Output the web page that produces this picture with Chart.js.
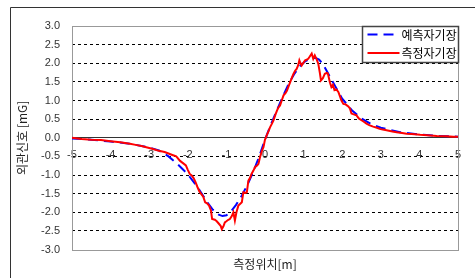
<!DOCTYPE html>
<html>
<head>
<meta charset="utf-8">
<script src="https://cdn.jsdelivr.net/npm/chart.js@4"></script>
<style>
html,body{margin:0;padding:0;background:#fff;}
#wrap{width:475px;height:278px;position:relative;}
</style>
</head>
<body>
<div id="wrap"><canvas id="c" width="475" height="278"></canvas></div>
<script>
// ---- data ----
const seriesNames = ['예측자기장', '측정자기장'];
const xTickLabels = [-5, -4, -3, -2, -1, 0, 1, 2, 3, 4, 5];
const yTickLabels = [-3.0, -2.5, -2.0, -1.5, -1.0, -0.5, 0.0, 0.5, 1.0, 1.5, 2.0, 2.5, 3.0];

const predX = [-5, -4.5, -4, -3.5, -3, -2.75, -2.5, -2.25, -2, -1.75, -1.5, -1.35, -1.2, -1.1, -1.0, -0.9, -0.75, -0.6, -0.45, -0.3, -0.15, 0, 0.15, 0.3, 0.45, 0.6, 0.75, 0.9, 1.05, 1.2, 1.3, 1.4, 1.5, 1.65, 1.8, 2.0, 2.25, 2.5, 2.75, 3.0, 3.5, 4.0, 4.5, 5.0];
const predY = [-0.02, -0.05, -0.1, -0.16, -0.26, -0.34, -0.5, -0.72, -0.98, -1.32, -1.72, -1.93, -2.06, -2.1, -2.08, -2.0, -1.8, -1.55, -1.25, -0.9, -0.5, -0.05, 0.35, 0.72, 1.08, 1.42, 1.7, 1.92, 2.06, 2.14, 2.15, 2.1, 1.98, 1.7, 1.42, 1.05, 0.74, 0.52, 0.37, 0.27, 0.15, 0.09, 0.05, 0.03];

const measX = [-5.0, -4.75, -4.5, -4.25, -4.0, -3.75, -3.5, -3.35, -3.2, -3.05, -2.9, -2.75, -2.6, -2.5, -2.4, -2.3, -2.2, -2.1, -2.05, -2.0, -1.95, -1.9, -1.85, -1.8, -1.75, -1.7, -1.65, -1.6, -1.55, -1.5, -1.45, -1.4, -1.37, -1.3, -1.25, -1.2, -1.15, -1.12, -1.08, -1.04, -1.0, -0.95, -0.91, -0.86, -0.82, -0.78, -0.74, -0.69, -0.64, -0.6, -0.56, -0.5, -0.47, -0.43, -0.39, -0.35, -0.3, -0.26, -0.2, -0.17, -0.13, -0.08, -0.04, 0.0, 0.05, 0.1, 0.13, 0.18, 0.22, 0.27, 0.31, 0.35, 0.39, 0.44, 0.48, 0.53, 0.57, 0.61, 0.65, 0.7, 0.74, 0.78, 0.82, 0.86, 0.89, 0.92, 0.95, 1.0, 1.04, 1.08, 1.12, 1.16, 1.21, 1.25, 1.29, 1.34, 1.38, 1.42, 1.45, 1.5, 1.55, 1.6, 1.63, 1.68, 1.72, 1.76, 1.8, 1.85, 1.9, 1.94, 1.98, 2.03, 2.08, 2.12, 2.16, 2.2, 2.24, 2.3, 2.37, 2.43, 2.5, 2.56, 2.63, 2.7, 2.8, 2.9, 2.97, 3.05, 3.15, 3.3, 3.41, 3.55, 3.67, 3.8, 4.02, 4.2, 4.45, 4.7, 4.88, 5.0];
const measY = [0.0, -0.03, -0.05, -0.06, -0.09, -0.12, -0.16, -0.19, -0.22, -0.26, -0.30, -0.35, -0.38, -0.42, -0.46, -0.50, -0.62, -0.70, -0.74, -0.86, -0.97, -1.01, -1.08, -1.19, -1.32, -1.44, -1.51, -1.58, -1.73, -1.76, -1.82, -1.95, -2.18, -2.2, -2.24, -2.30, -2.36, -2.45, -2.38, -2.27, -2.24, -2.20, -2.18, -2.10, -2.00, -2.22, -2.0, -1.82, -1.77, -1.73, -1.46, -1.48, -1.46, -1.15, -1.08, -0.97, -0.88, -0.79, -0.74, -0.70, -0.52, -0.35, -0.25, -0.05, 0.08, 0.2, 0.28, 0.38, 0.47, 0.62, 0.73, 0.82, 0.87, 1.02, 1.14, 1.2, 1.27, 1.38, 1.49, 1.62, 1.72, 1.80, 1.85, 1.95, 2.08, 2.0, 1.94, 2.02, 2.08, 2.1, 2.12, 2.18, 2.26, 2.12, 2.21, 2.1, 1.99, 1.75, 1.54, 1.6, 1.72, 1.74, 1.72, 1.49, 1.36, 1.42, 1.28, 1.3, 1.23, 1.12, 1.0, 0.91, 0.9, 0.87, 0.84, 0.79, 0.65, 0.63, 0.60, 0.52, 0.47, 0.43, 0.38, 0.34, 0.30, 0.27, 0.24, 0.22, 0.20, 0.17, 0.15, 0.13, 0.11, 0.10, 0.08, 0.07, 0.05, 0.04, 0.03, 0.03];

const xTitle = '측정위치[m]';
const yTitle = '외관신호 [mG]';

// ---- build ----
const toPts = (xs, ys) => xs.map((x, i) => ({x: x, y: ys[i]}));
const korFont = '"Noto Sans CJK KR", "Noto Sans", sans-serif';
const numFont = '"Liberation Sans", Arial, sans-serif';

const framePlugin = {
  id: 'frame',
  beforeDraw(chart) {
    const ctx = chart.ctx;
    ctx.save();
    ctx.fillStyle = '#fff';
    ctx.fillRect(0, 0, chart.width, chart.height);
    ctx.strokeStyle = '#333';
    ctx.lineWidth = 1;
    ctx.beginPath();
    ctx.moveTo(10.5, chart.height);
    ctx.lineTo(10.5, 7.5);
    ctx.lineTo(chart.width, 7.5);
    ctx.stroke();
    ctx.restore();
  },
  beforeDatasetsDraw(chart) {
    const a = chart.chartArea, ctx = chart.ctx;
    ctx.save();
    ctx.strokeStyle = '#999';
    ctx.lineWidth = 1;
    ctx.strokeRect(Math.round(a.left) + 0.5, Math.round(a.top) + 0.5,
                   Math.round(a.right - a.left), Math.round(a.bottom - a.top));
    ctx.restore();
  },
  afterDraw(chart) {
    const ctx = chart.ctx;
    const a = chart.chartArea;
    const bx = a.right - 95.5, by = a.top + 0.5, bw = 96, bh = 36;
    ctx.save();
    ctx.fillStyle = '#fff';
    ctx.fillRect(bx, by, bw, bh);
    ctx.strokeStyle = '#444';
    ctx.lineWidth = 1.5;
    ctx.strokeRect(bx, by, bw, bh);
    const rows = [by + 8, by + 26.5];
    chart.data.datasets.forEach((ds, i) => {
      const y = rows[i];
      ctx.strokeStyle = ds.borderColor;
      ctx.lineWidth = 2;
      ctx.setLineDash(ds.borderDash || []);
      ctx.beginPath();
      ctx.moveTo(bx + 5, y);
      ctx.lineTo(bx + 37, y);
      ctx.stroke();
      ctx.setLineDash([]);
      ctx.fillStyle = '#000';
      ctx.font = '12px ' + korFont;
      ctx.textBaseline = 'middle';
      ctx.textAlign = 'left';
      ctx.fillText(ds.label, bx + 39, y + 0.5);
    });
    ctx.restore();
  }
};

new Chart(document.getElementById('c'), {
  type: 'line',
  data: {
    datasets: [
      {label: seriesNames[0], data: toPts(predX, predY), borderColor: '#0000ff', borderWidth: 2,
       borderDash: [10, 6], pointRadius: 0, tension: 0, fill: false, order: 1},
      {label: seriesNames[1], data: toPts(measX, measY), borderColor: '#ff0000', borderWidth: 2,
       pointRadius: 0, tension: 0, fill: false, order: 0}
    ]
  },
  options: {
    responsive: false,
    animation: false,
    devicePixelRatio: 1,
    layout: {padding: {left: 0, right: 17, top: 26, bottom: 0}},
    plugins: {
      legend: {display: false},
      tooltip: {enabled: false},
      title: {display: true, position: 'bottom', fullSize: false, text: xTitle, color: '#222',
              font: {family: korFont, size: 12, weight: 'normal'}, padding: {top: 8, bottom: 6}}
    },
    scales: {
      x: {
        type: 'linear', position: {y: 0}, min: xTickLabels[0], max: xTickLabels[xTickLabels.length - 1],
        afterBuildTicks(s) { s.ticks = xTickLabels.map(v => ({value: v})); },
        grid: {display: false, drawTicks: false},
        border: {display: true, color: '#333', width: 1},
        ticks: {color: '#333', padding: 11, maxRotation: 0, autoSkip: false,
                font: {family: numFont, size: 11}, callback: v => String(v)}
      },
      y: {
        type: 'linear', min: yTickLabels[0], max: yTickLabels[yTickLabels.length - 1],
        afterBuildTicks(s) { s.ticks = yTickLabels.map(v => ({value: v})); },
        afterFit(s) { s.width = 72; },
        grid: {drawTicks: false, color: c => (c.tick && (Math.abs(c.tick.value) === 3 || c.tick.value === 0)) ? 'rgba(0,0,0,0)' : '#000'},
        border: {display: false, dash: [3, 3]},
        ticks: {color: '#333', padding: 12, autoSkip: false,
                font: {family: numFont, size: 11}, callback: v => Number(v).toFixed(1)},
        title: {display: true, text: yTitle, color: '#222', padding: {top: 15, bottom: 0},
                font: {family: korFont, size: 12, weight: 'normal'}}
      }
    }
  },
  plugins: [framePlugin]
});
</script>
</body>
</html>
